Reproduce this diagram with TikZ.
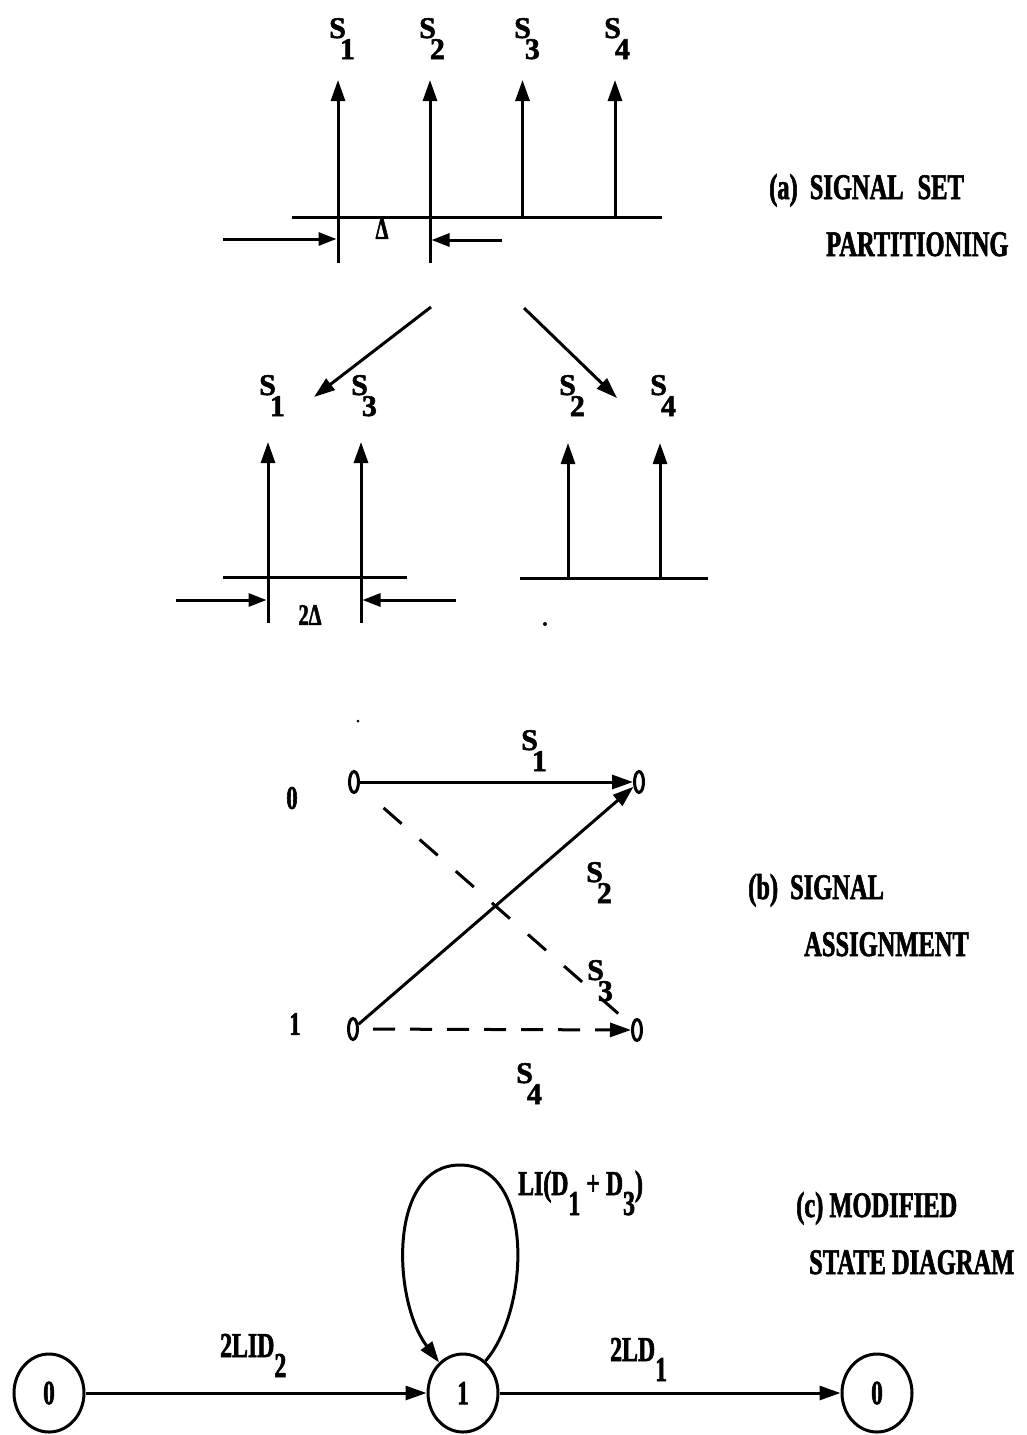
\documentclass[tikz,border=0pt]{standalone}
\usepackage{fontspec}
\setmainfont{Liberation Serif}
\newfontfamily\hv{Liberation Serif}[FakeBold=1.8]
\newfontfamily\cfont{Liberation Serif}[FakeStretch=0.68, FakeBold=1.6]
\usetikzlibrary{arrows.meta,shapes.geometric}
\newcommand\lowsub[2]{#1\kern-6pt\raisebox{-21pt}{#2}}
\begin{document}
\begin{tikzpicture}[x=1pt,y=-1pt,
  ln/.style={line width=3pt},
  arr/.style={line width=3pt,-{Triangle[length=21pt,width=14pt]}},
  arrs/.style={line width=3pt,-{Triangle[length=18pt,width=13pt]}},
  lab/.style={font=\hv\fontsize{30}{34}\selectfont\bfseries, inner sep=0pt, anchor=base west},
  captext/.style={font=\cfont\fontsize{36}{40}\selectfont\bfseries, inner sep=0pt, anchor=base west},
  clab/.style={font=\cfont\fontsize{35}{38}\selectfont\bfseries, inner sep=0pt, anchor=base west},
  dlab/.style={font=\cfont\fontsize{30}{34}\selectfont\bfseries, inner sep=0pt},
  tnode/.style={draw, ellipse, line width=3pt, minimum width=9pt, minimum height=21pt, inner sep=0pt},
  snode/.style={draw, ellipse, line width=3pt, minimum width=70pt, minimum height=78pt, inner sep=0pt,
    font=\cfont\fontsize{34}{38}\selectfont\bfseries},
  stlab/.style={font=\cfont\fontsize{33}{36}\selectfont\bfseries, inner sep=0pt},
  speck/.style={fill, circle, inner sep=0pt, minimum size=#1}
]
\useasboundingbox (0,0) rectangle (1026,1435);

% ---------------- (a) signal set partitioning ----------------
\draw[ln] (292,217) -- (662,217);
\draw[arr] (338,263) -- (338,80);
\draw[arr] (430,263) -- (430,80);
\draw[arr] (522.5,217) -- (522.5,80);
\draw[arr] (615,217) -- (615,80);
\draw[arrs] (223,239) -- (336.5,239);
\draw[arrs] (502,240) -- (431.5,240);
\node[dlab] (delta) at (382,229) {Δ};
\node[lab] (s1a) at (329,38) {\lowsub{S}{1}};
\node[lab] (s2a) at (419,38) {\lowsub{S}{2}};
\node[lab] (s3a) at (514,38) {\lowsub{S}{3}};
\node[lab] (s4a) at (604,38) {\lowsub{S}{4}};

\draw[arr] (431,307) -- (314,397);
\draw[arr] (524,308) -- (617,398);

\node[lab] (s1b) at (259,395) {\lowsub{S}{1}};
\node[lab] (s3b) at (351,395) {\lowsub{S}{3}};
\node[lab] (s2b) at (559,395) {\lowsub{S}{2}};
\node[lab] (s4b) at (650,395) {\lowsub{S}{4}};

\draw[ln] (223,577) -- (407,577);
\draw[arr] (268,623) -- (268,442);
\draw[arr] (361,623) -- (361,442);
\draw[arrs] (176,600) -- (266.5,600);
\draw[arrs] (456,600) -- (362.5,600);
\node[dlab] (twodelta) at (310,615) {2Δ};

\draw[ln] (520,578) -- (708,578);
\draw[arr] (568,578) -- (568,443);
\draw[arr] (660,578) -- (660,443);
\node[speck=4pt] (d1) at (545,624) {};

\node[captext] (ca1) at (769,199) {(a)\hspace{12pt}SIGNAL\hspace{14pt}SET};
\node[captext] (ca2) at (826,256) {PARTITIONING};

% ---------------- (b) signal assignment ----------------
\node[speck=3pt] (d2) at (358,721) {};
\node[tnode] (l0) at (354,782) {};
\node[tnode] (r0) at (639,782) {};
\node[tnode] (l1) at (353,1029) {};
\node[tnode] (r1) at (637,1030) {};
\node[stlab] (z0) at (292,798) {0};
\node[stlab] (z1) at (295,1024) {1};

\draw[arr] (l0) -- (r0);
\draw[arr] (l1) -- (r0);
\draw[ln, dash pattern=on 24pt off 24pt, dash phase=30pt, shorten <=14pt, shorten >=10pt] (l0) -- (r1);
\draw[arr, dash pattern=on 22pt off 15pt, shorten <=14pt] (l1) -- (r1);

\node[lab] (t1) at (521,750) {\lowsub{S}{1}};
\node[lab] (t2) at (586,882) {\lowsub{S}{2}};
\node[lab] (t3) at (587,980) {\lowsub{S}{3}};
\node[lab] (t4) at (516,1083) {\lowsub{S}{4}};

\node[captext] (cb1) at (748,899) {(b)\hspace{12pt}SIGNAL};
\node[captext] (cb2) at (804,956) {ASSIGNMENT};

% ---------------- (c) modified state diagram ----------------
\node[snode] (a0) at (49,1393) {0};
\node[snode] (a1) at (463,1393) {1};
\node[snode] (a2) at (877,1393) {0};

\draw[arr] (a0) -- (a1);
\draw[arr] (a1) -- (a2);
\draw[arr] (a1.55) .. controls (530,1310) and (535,1165) .. (460,1165)
  .. controls (388,1165) and (392,1300) .. (a1.128);

\node[clab] (e1) at (220,1357) {2LID\raisebox{-20pt}{2}};
\node[clab] (e2) at (610,1361) {2LD\raisebox{-20pt}{1}};
\node[clab] (e3) at (518,1195) {LI(D\raisebox{-20pt}{1}\hspace{6pt}+\hspace{6pt}D\raisebox{-20pt}{3})};

\node[captext] (cc1) at (796,1217) {(c)\hspace{6pt}MODIFIED};
\node[captext] (cc2) at (809,1274) {STATE DIAGRAM};
\end{tikzpicture}
\end{document}
